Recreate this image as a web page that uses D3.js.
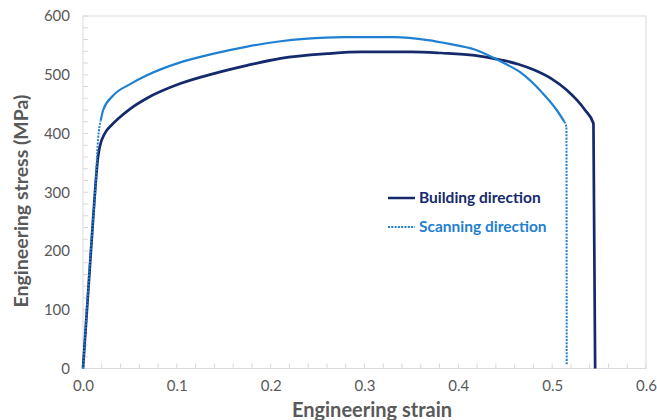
<!DOCTYPE html>
<html><head><meta charset="utf-8">
<script src="https://cdn.jsdelivr.net/npm/d3@7"></script>
<style>
html,body{margin:0;padding:0;background:#fff;}
svg text{font-family:Lato,"Open Sans",sans-serif;}
</style></head>
<body><svg id="chart" width="657" height="420"></svg>
<script>
// ---- data ----
const buildingStrain = [0, 0.0107, 0.016, 0.0178, 0.0232, 0.0303, 0.0374, 0.0503, 0.0681, 0.1037, 0.1394, 0.175, 0.2107, 0.2606, 0.2963, 0.3497, 0.3818, 0.4174, 0.446, 0.464, 0.481, 0.4995, 0.5155, 0.535, 0.544, 0.5458];
const buildingStress = [0, 253, 360, 377, 400, 414, 425, 442, 460, 485, 502, 516, 528, 536, 539, 539, 537, 533, 525, 518, 508, 493, 474, 440, 417, 0];
const scanStrain = [0, 0.0107, 0.013, 0.016, 0.0189, 0.0215, 0.0324, 0.0503, 0.0681, 0.1037, 0.1394, 0.175, 0.2107, 0.2357, 0.278, 0.332, 0.3676, 0.389, 0.4174, 0.446, 0.467, 0.489, 0.5048, 0.513, 0.5152, 0.5155];
const scanStress = [0, 253, 300, 389, 422, 440, 465, 484, 499, 521, 536, 548, 557, 561, 564, 564, 559, 553, 543, 522, 503, 470, 440, 420, 411, 5];
const xTicks = [0, 0.1, 0.2, 0.3, 0.4, 0.5, 0.6];
const yTicks = [0, 100, 200, 300, 400, 500, 600];
const seriesNames = ["Building direction", "Scanning direction"];
const xTitle = "Engineering strain";
const yTitle = "Engineering stress (MPa)";

const darkC = "#142a6c", lightC = "#1f80d2", gray = "#595959", axisC = "#d9d9d9";
const svg = d3.select("#chart");
const x = d3.scaleLinear().domain([0, 0.6]).range([83, 646]);
const y = d3.scaleLinear().domain([0, 600]).range([368.5, 16]);

// frame
svg.append("rect").attr("x", x(0)).attr("y", y(600)).attr("width", x(0.6) - x(0)).attr("height", y(0) - y(600))
  .attr("fill", "none").attr("stroke", axisC).attr("stroke-width", 1);

// minor ticks (inside)
const xMinor = d3.range(0, 0.6001, 0.02);
const yMinor = d3.range(0, 600.1, 20);
svg.append("g").selectAll("line").data(xMinor).join("line")
  .attr("x1", d => x(d)).attr("x2", d => x(d)).attr("y1", y(0)).attr("y2", y(0) - 5)
  .attr("stroke", axisC);
svg.append("g").selectAll("line").data(yMinor).join("line")
  .attr("x1", x(0)).attr("x2", x(0) + 5).attr("y1", d => y(d)).attr("y2", d => y(d))
  .attr("stroke", axisC);

// axes labels via d3 axes
const xAxis = svg.append("g").attr("transform", `translate(0,${y(0)})`)
  .call(d3.axisBottom(x).tickValues(xTicks).tickFormat(d3.format(".1f")).tickSize(0).tickPadding(12));
const yAxis = svg.append("g").attr("transform", `translate(${x(0)},0)`)
  .call(d3.axisLeft(y).tickValues(yTicks).tickFormat(d3.format("d")).tickSize(0).tickPadding(13));
[xAxis, yAxis].forEach(g => {
  g.select(".domain").remove();
  g.selectAll("text").attr("fill", gray).style("font-size", "15px").style("font-family", "Lato, sans-serif");
});

// lines
const lineGen = d3.line().x(d => x(d[0])).y(d => y(d[1])).curve(d3.curveMonotoneX);
const bPts = buildingStrain.map((s, i) => [s, buildingStress[i]]);
const sPts = scanStrain.map((s, i) => [s, scanStress[i]]);
svg.append("path").datum(bPts)
  .attr("d", lineGen).attr("fill", "none").attr("stroke", darkC).attr("stroke-width", 2.7);
// scanning: dotted on the elastic rise and final drop, dense (solid-looking) in between
const kneeIdx = 4, dropIdx = sPts.length - 3;
const segs = [
  {pts: sPts.slice(0, kneeIdx + 1), dash: "2,1.3"},
  {pts: sPts.slice(kneeIdx, dropIdx + 1), dash: null},
  {pts: sPts.slice(dropIdx), dash: "2,1.3"}
];
svg.append("g").selectAll("path").data(segs).join("path")
  .attr("d", d => lineGen(d.pts)).attr("fill", "none").attr("stroke", lightC)
  .attr("stroke-width", d => d.dash ? 2 : 2.2).attr("stroke-dasharray", d => d.dash);

// legend
const legend = svg.append("g");
const legY = [198, 227];
legend.selectAll("line").data(seriesNames).join("line")
  .attr("x1", 388).attr("x2", 415).attr("y1", (d, i) => legY[i]).attr("y2", (d, i) => legY[i])
  .attr("stroke", (d, i) => i ? lightC : darkC).attr("stroke-width", (d, i) => i ? 2 : 2.5)
  .attr("stroke-dasharray", (d, i) => i ? "2,1.3" : null);
legend.selectAll("text").data(seriesNames).join("text")
  .attr("x", 419).attr("y", (d, i) => legY[i] + 5).text(d => d)
  .attr("fill", (d, i) => i ? lightC : darkC).style("font-size", "15.5px").style("font-weight", "bold");

// titles
svg.append("text").attr("x", 372).attr("y", 417).attr("text-anchor", "middle")
  .attr("fill", gray).style("font-size", "20px").style("font-weight", "bold").text(xTitle);
svg.append("text").attr("transform", "translate(28,201) rotate(-90)").attr("text-anchor", "middle")
  .attr("fill", gray).style("font-size", "19.5px").style("font-weight", "bold").text(yTitle);
</script></body></html>
